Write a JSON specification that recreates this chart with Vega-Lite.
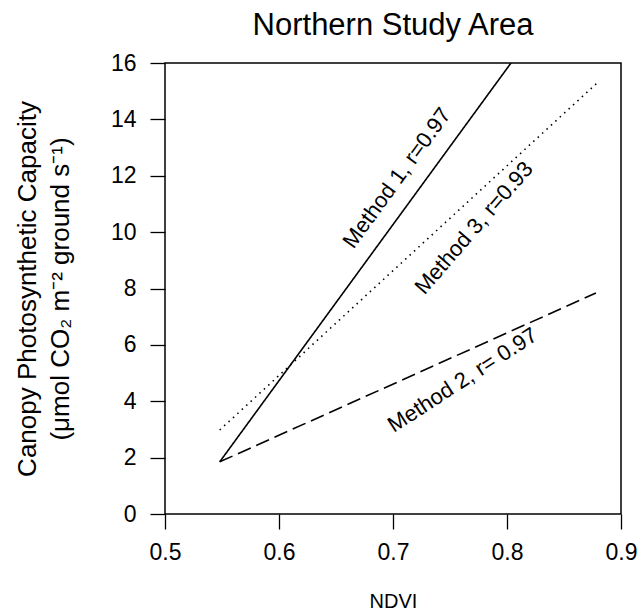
{
  "$schema": "https://vega.github.io/schema/vega-lite/v6.json",
  "autosize": {"type": "none"},
  "width": 456,
  "height": 451,
  "padding": {"left": 165, "top": 63, "right": 20, "bottom": 99},
  "background": "white",
  "config": {
    "font": "Liberation Sans",
    "view": {"stroke": "black", "strokeWidth": 1.5},
    "axis": {"grid": false, "domain": false, "tickColor": "black", "tickSize": 15, "tickWidth": 1.3, "labelColor": "black", "titleColor": "black", "labelFont": "Liberation Sans", "titleFont": "Liberation Sans", "titleFontWeight": "normal"}
  },
  "title": {"text": "Northern Study Area", "fontSize": 31, "fontWeight": "normal", "font": "Liberation Sans", "color": "black", "offset": 10},
  "datasets": {
    "lines": [
      {"method": "Method 1", "ndvi": 0.548, "pc": 1.85},
      {"method": "Method 1", "ndvi": 0.8035, "pc": 16},
      {"method": "Method 2", "ndvi": 0.548, "pc": 1.85},
      {"method": "Method 2", "ndvi": 0.878, "pc": 7.84},
      {"method": "Method 3", "ndvi": 0.548, "pc": 2.98},
      {"method": "Method 3", "ndvi": 0.879, "pc": 15.29}
    ],
    "labels": [
      {"text": "Method 1, r=0.97", "ndvi": 0.7035, "pc": 11.92, "angle": -54},
      {"text": "Method 3, r=0.93", "ndvi": 0.771, "pc": 10.15, "angle": -49},
      {"text": "Method 2, r= 0.97", "ndvi": 0.761, "pc": 4.75, "angle": -33}
    ]
  },
  "layer": [
    {
      "data": {"name": "lines"},
      "mark": {"type": "line", "color": "black", "strokeWidth": 1.6, "clip": true},
      "encoding": {
        "x": {"field": "ndvi", "type": "quantitative", "scale": {"domain": [0.5, 0.9], "nice": false, "zero": false},
              "axis": {"values": [0.5, 0.6, 0.7, 0.8, 0.9], "format": ".1f", "labelFontSize": 23, "labelPadding": 12, "title": "NDVI", "titleFontSize": 20, "titlePadding": 27, "labelFlush": false}},
        "y": {"field": "pc", "type": "quantitative", "scale": {"domain": [0, 16], "nice": false},
              "axis": {"values": [0, 2, 4, 6, 8, 10, 12, 14, 16], "labelFontSize": 23, "labelPadding": 14, "labelFlush": false,
                       "title": ["Canopy Photosynthetic Capacity", "(μmol CO₂ m⁻² ground s⁻¹)"], "titleFontSize": 26, "titleLineHeight": 33, "titlePadding": 37}},
        "detail": {"field": "method"},
        "strokeDash": {"field": "method", "type": "nominal", "legend": null,
                       "scale": {"domain": ["Method 1", "Method 2", "Method 3"], "range": [[1, 0], [14, 6], [1.5, 4.5]]}}
      }
    },
    {
      "data": {"name": "labels"},
      "mark": {"type": "text", "fontSize": 22, "color": "black", "align": "center", "baseline": "middle"},
      "encoding": {
        "x": {"field": "ndvi", "type": "quantitative"},
        "y": {"field": "pc", "type": "quantitative"},
        "text": {"field": "text"},
        "angle": {"field": "angle", "type": "quantitative", "scale": null}
      }
    }
  ]
}
